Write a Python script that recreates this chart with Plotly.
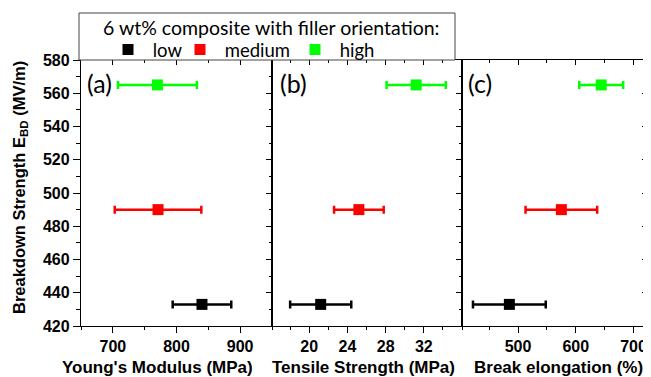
import plotly.graph_objects as go

categories = ["low", "medium", "high"]
colors = ["#000000", "#ff0000", "#00ff00"]
ebd = [433, 490, 565]
youngs = [840, 771, 770]
youngs_err = [46, 68, 62]
tensile = [21.2, 25.2, 31.2]
tensile_err = [3.2, 2.6, 3.1]
elong = [485, 575, 644]
elong_err = [63, 62, 38]

panel_letters = ["(a)", "(b)", "(c)"]
x_titles = ["Young's Modulus (MPa)", "Tensile Strength (MPa)", "Break elongation (%)"]
legend_title = "6 wt% composite with filler orientation:"

# page body has an 8px margin: the figure is sized to fill the rest of the window
OFF = 8
W, H = 651 - OFF, 377 - OFF
L, T = 81 - OFF, 60 - OFF
R, B = 3, 51
PW = W - L - R
PH = H - T - B
edges_px = [81, 272, 462, 648]
dom = [((edges_px[i] - 81) / PW, (edges_px[i + 1] - 81) / PW) for i in range(3)]
legend_w = [27, 70, 40]

fig = go.Figure()
panels = [(youngs, youngs_err), (tensile, tensile_err), (elong, elong_err)]
for p, (vals, errs) in enumerate(panels):
    xa = "x" if p == 0 else f"x{p+1}"
    ya = "y" if p == 0 else f"y{p+1}"
    for i, cat in enumerate(categories):
        fig.add_trace(go.Scatter(
            x=[vals[i]], y=[ebd[i]], mode="markers",
            marker=dict(symbol="square", size=11, color=colors[i]),
            error_x=dict(type="data", array=[errs[i]], color=colors[i], thickness=2.5, width=4),
            name="\u00a0" + cat, legendgroup=cat, showlegend=(p == 0), legendwidth=legend_w[i],
            xaxis=xa, yaxis=ya,
        ))

tickfont = dict(family="Liberation Sans", size=16, color="black", weight="bold")
ranges = [[650, 950], [16.1, 36], [403, 725]]
tickvals = [[700, 800, 900], [20, 24, 28, 32], [500, 600, 700]]
minor_d = [50, 2, 50]
yrange = [420, 580]
line = dict(showline=True, linecolor="black", linewidth=1.3, mirror=True)

layout = dict(
    width=W, height=H, margin=dict(l=L, r=R, t=T, b=B, autoexpand=False),
    plot_bgcolor="white", paper_bgcolor="white",
    font=dict(family="Liberation Sans", color="black"),
)
for p in range(3):
    s = "" if p == 0 else str(p + 1)
    ys = "y" + s
    xs = "x" + s
    layout["xaxis" + s] = dict(
        domain=list(dom[p]), anchor=ys, range=ranges[p], tickvals=tickvals[p],
        ticks="outside", ticklen=6, tickwidth=1.3, tickcolor="black",
        minor=dict(ticks="outside", ticklen=3, tickwidth=1.3, dtick=minor_d[p], tick0=0, tickcolor="black"),
        showgrid=False, zeroline=False, tickfont=tickfont, **line,
    )
    if p == 0:
        layout["yaxis"] = dict(
            domain=[0, 1], anchor="x", range=yrange, dtick=20, tick0=0,
            ticks="outside", ticklen=7, tickwidth=1.3, tickcolor="black",
            minor=dict(ticks="outside", ticklen=4, tickwidth=1.3, dtick=10, tick0=0, tickcolor="black"),
            showgrid=False, zeroline=False, tickfont=tickfont, **line,
        )
    else:
        layout["yaxis" + s] = dict(
            domain=[0, 1], anchor=xs, range=yrange, showticklabels=False, ticks="",
            showgrid=False, zeroline=False, **line,
        )
    q = p + 4
    layout[f"xaxis{q}"] = dict(
        overlaying=xs, side="top", anchor=ys, range=ranges[p], tickvals=tickvals[p],
        ticks="inside", ticklen=5, tickwidth=1.3, tickcolor="black", showticklabels=False,
        minor=dict(ticks="inside", ticklen=3, tickwidth=1.3, dtick=minor_d[p], tick0=0, tickcolor="black"),
        showgrid=False, zeroline=False, showline=False,
    )
    layout[f"yaxis{q}"] = dict(
        overlaying=ys, side="right", anchor=xs, range=yrange, dtick=20, tick0=0,
        ticks="inside", ticklen=6, tickwidth=1.3, tickcolor="black", showticklabels=False,
        minor=dict(ticks="inside", ticklen=3, tickwidth=1.3, dtick=10, tick0=0, tickcolor="black"),
        showgrid=False, zeroline=False, showline=False,
    )
    fig.add_trace(go.Scatter(x=[], y=[], xaxis=f"x{q}", yaxis=f"y{q}", showlegend=False, hoverinfo="skip"))

fig.update_layout(**layout)

# reference-window pixel -> paper fraction
def px_x(px):
    return (px - 81) / PW

def px_y(py):
    return (326 - py) / PH

annotations = []
letter_x = [85, 278, 466]
for p in range(3):
    annotations.append(dict(
        text=panel_letters[p], xref="paper", yref="paper", x=px_x(letter_x[p]), y=px_y(83),
        xanchor="left", yanchor="middle", showarrow=False,
        font=dict(family="Lato", size=25, color="black"),
    ))
title_cx = [157, 363, 558]
for p in range(3):
    annotations.append(dict(
        text=f"<b>{x_titles[p]}</b>", xref="paper", yref="paper", x=px_x(title_cx[p]), y=px_y(367),
        xanchor="center", yanchor="middle", showarrow=False,
        font=dict(family="Liberation Sans", size=17, color="black"),
    ))
annotations.append(dict(
    text="<b>Breakdown Strength E<sub>BD</sub> (MV/m)</b>", xref="paper", yref="paper",
    x=px_x(20), y=px_y(188), xanchor="center", yanchor="middle", textangle=-90, showarrow=False,
    font=dict(family="Liberation Sans", size=16.5, color="black"),
))
annotations.append(dict(
    text=legend_title, xref="paper", yref="paper", x=px_x(271), y=px_y(27),
    xanchor="center", yanchor="middle", showarrow=False,
    font=dict(family="Lato", size=19.5, color="black"),
))
fig.update_layout(annotations=annotations)

fig.update_layout(shapes=[dict(
    type="rect", xref="paper", yref="paper", x0=px_x(79), x1=px_x(455), y0=px_y(60), y1=px_y(13),
    fillcolor="white", line=dict(color="#444", width=1), layer="above",
)])

fig.update_layout(legend=dict(
    xref="container", yref="container",
    x=(108 - OFF) / W, xanchor="left", y=1 - (50 - OFF) / H, yanchor="middle",
    orientation="h", bgcolor="rgba(0,0,0,0)", borderwidth=0,
    font=dict(family="Lato", size=18.5, color="black"),
))

fig.write_html("out.html")
